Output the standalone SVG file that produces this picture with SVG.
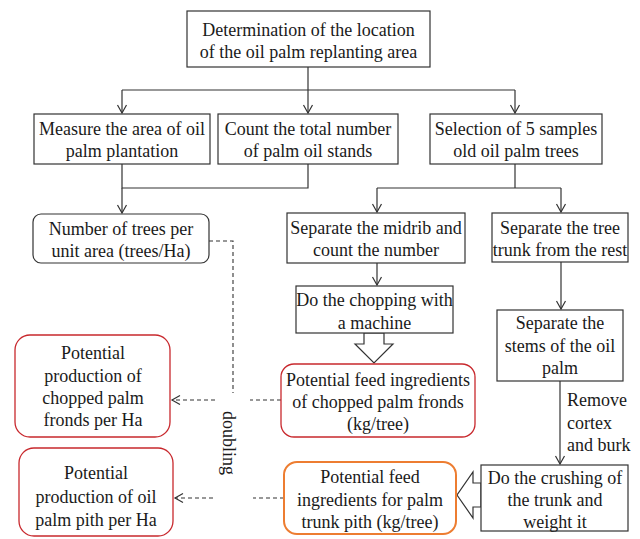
<svg xmlns="http://www.w3.org/2000/svg" width="640" height="539" viewBox="0 0 640 539" font-family="'Liberation Serif', 'DejaVu Serif', serif">
<style>
text{font-family:'Liberation Serif','DejaVu Serif',serif;font-size:18px;fill:#1a1a1a;text-anchor:middle}
.st{text-anchor:start}
.box{fill:#fff;stroke:#333;stroke-width:1.2}
.red{fill:#fff;stroke:#c8282d;stroke-width:1.3}
.org{fill:#fff;stroke:#ed7d31;stroke-width:2}
.ln{fill:none;stroke:#333;stroke-width:1.2}
.dash{fill:none;stroke:#333;stroke-width:1.1;stroke-dasharray:4 3}
.blk{fill:#fff;stroke:#333;stroke-width:1.2}
</style>
<defs>
<marker id="arr" markerWidth="12" markerHeight="12" refX="10" refY="6" orient="auto" markerUnits="userSpaceOnUse">
<polyline points="2,1.5 10,6 2,10.5" fill="none" stroke="#333" stroke-width="1.2"/>
</marker>
</defs>
<g id="connectors">
<polyline class="ln" points="308,67 308,90"/>
<polyline class="ln" points="122,90 515,90"/>
<line class="ln" x1="122" y1="90" x2="122" y2="113" marker-end="url(#arr)"/>
<line class="ln" x1="308" y1="90" x2="308" y2="113" marker-end="url(#arr)"/>
<line class="ln" x1="515" y1="90" x2="515" y2="113" marker-end="url(#arr)"/>
<polyline class="ln" points="122,164 122,188 308,188 308,164"/>
<line class="ln" x1="122" y1="188" x2="122" y2="213" marker-end="url(#arr)"/>
<polyline class="ln" points="515,164 515,188"/>
<polyline class="ln" points="377,188 561,188"/>
<line class="ln" x1="377" y1="188" x2="377" y2="212" marker-end="url(#arr)"/>
<line class="ln" x1="561" y1="188" x2="561" y2="212" marker-end="url(#arr)"/>
<line class="ln" x1="377" y1="263" x2="377" y2="285" marker-end="url(#arr)"/>
<line class="ln" x1="561" y1="262" x2="561" y2="309" marker-end="url(#arr)"/>
<line class="ln" x1="560" y1="381" x2="560" y2="464" marker-end="url(#arr)"/>
<polygon class="blk" points="364,333 364,344 355,344 374,363 393,344 384,344 384,333"/>
<polygon class="blk" points="481,483 473,483 473,472 457,495 473,518 473,507 481,507"/>
<polyline class="dash" points="209,241 233,241 233,393"/>
<line class="dash" x1="281" y1="400" x2="250" y2="400"/>
<line class="dash" x1="215" y1="400" x2="172" y2="400" marker-end="url(#arr)"/>
<line class="dash" x1="284" y1="498" x2="253" y2="498"/>
<line class="dash" x1="213" y1="498" x2="175" y2="498" marker-end="url(#arr)"/>
<text transform="translate(229,443) rotate(90)" y="6">doubling</text>
<text class="st" x="567" y="406">Remove</text>
<text class="st" x="567" y="429">cortex</text>
<text class="st" x="567" y="451">and burk</text>
</g>
<g id="n-location">
<rect class="box" x="187" y="11" width="243" height="56"/>
<text x="308.5" y="36">Determination of the location</text>
<text x="308.5" y="58">of the oil palm replanting area</text>
</g>
<g id="n-measure">
<rect class="box" x="34" y="114" width="176" height="50"/>
<text x="122" y="135">Measure the area of oil</text>
<text x="122" y="157">palm plantation</text>
</g>
<g id="n-count">
<rect class="box" x="218" y="114" width="180" height="50"/>
<text x="308" y="135">Count the total number</text>
<text x="308" y="157">of palm oil stands</text>
</g>
<g id="n-selection">
<rect class="box" x="430" y="114" width="172" height="50"/>
<text x="516" y="135">Selection of 5 samples</text>
<text x="516" y="157">old oil palm trees</text>
</g>
<g id="n-trees">
<rect class="box" x="33" y="214" width="176" height="49" rx="8"/>
<text x="121" y="235">Number of trees per</text>
<text x="121" y="257">unit area (trees/Ha)</text>
</g>
<g id="n-midrib">
<rect class="box" x="287" y="213" width="178" height="50"/>
<text x="376" y="234">Separate the midrib and</text>
<text x="376" y="256">count the number</text>
</g>
<g id="n-trunk">
<rect class="box" x="492" y="213" width="136" height="49"/>
<text x="560" y="234">Separate the tree</text>
<text x="560" y="256">trunk from the rest</text>
</g>
<g id="n-chopping">
<rect class="box" x="296" y="286" width="157" height="47"/>
<text x="374.5" y="306">Do the chopping with</text>
<text x="374.5" y="329">a machine</text>
</g>
<g id="n-stems">
<rect class="box" x="497" y="310" width="126" height="71"/>
<text x="560" y="329">Separate the</text>
<text x="560" y="352">stems of the oil</text>
<text x="560" y="374">palm</text>
</g>
<g id="n-crushing">
<rect class="box" x="481" y="465" width="147" height="66"/>
<text x="555" y="484">Do the crushing of</text>
<text x="555" y="506">the trunk and</text>
<text x="555" y="528">weight it</text>
</g>
<g id="n-fronds-feed">
<rect class="red" x="281" y="364" width="194" height="73" rx="13"/>
<text x="378" y="386">Potential feed ingredients</text>
<text x="378" y="408">of chopped palm fronds</text>
<text x="378" y="430">(kg/tree)</text>
</g>
<g id="n-pith-feed">
<rect class="org" x="284" y="462" width="172" height="72" rx="13"/>
<text x="370" y="483">Potential feed</text>
<text x="370" y="506">ingredients for palm</text>
<text x="370" y="528">trunk pith (kg/tree)</text>
</g>
<g id="n-fronds-prod">
<rect class="red" x="15" y="335" width="155" height="102" rx="15"/>
<text x="93" y="359">Potential</text>
<text x="93" y="382">production of</text>
<text x="93" y="404">chopped palm</text>
<text x="93" y="426">fronds per Ha</text>
</g>
<g id="n-pith-prod">
<rect class="red" x="19" y="448" width="154" height="88" rx="15"/>
<text x="96" y="479">Potential</text>
<text x="96" y="503">production of oil</text>
<text x="96" y="526">palm pith per Ha</text>
</g>
</svg>
